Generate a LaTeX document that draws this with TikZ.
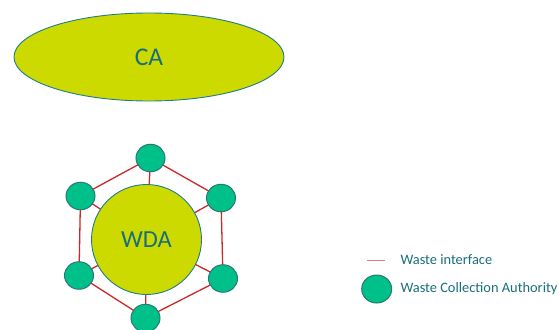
\documentclass[tikz,border=0pt]{standalone}
\usepackage{fontspec}
\setmainfont{Carlito}
\usetikzlibrary{shapes.geometric}
\definecolor{lime}{RGB}{204,218,0}
\definecolor{tealb}{RGB}{30,125,140}
\definecolor{txt}{RGB}{25,110,125}
\definecolor{wca}{RGB}{0,192,138}
\definecolor{wcab}{RGB}{40,120,115}
\definecolor{ifc}{RGB}{205,40,40}
\begin{document}
\begin{tikzpicture}[x=1pt,y=-1pt,
  big/.style={fill=lime,draw=tealb,line width=0.9pt,text=txt,font=\fontsize{25.5}{30}\selectfont},
  wcanode/.style={ellipse,fill=wca,draw=wcab,line width=1pt,minimum width=29pt,minimum height=27.5pt,inner sep=0pt},
  iface/.style={draw=ifc,line width=1.3pt},
  legtext/.style={text=txt,font=\fontsize{14.4}{17}\selectfont,anchor=west}]
\useasboundingbox (0,0) rectangle (559,329);
\node[big,ellipse,minimum width=270pt,minimum height=88pt] (ca) at (149,57) {CA};
\coordinate (wc) at (146.5,239.5);
\coordinate (t) at (150.5,158);
\coordinate (ul) at (80.5,196);
\coordinate (ur) at (221,198);
\coordinate (ll) at (79,275.5);
\coordinate (lr) at (223,278.5);
\coordinate (b) at (145.5,318);
\draw[iface] (t) -- (ul); \draw[iface] (t) -- (ur);
\draw[iface] (ul) -- (ll); \draw[iface] (ur) -- (lr);
\draw[iface] (ll) -- (b); \draw[iface] (lr) -- (b);
\foreach \n in {t,ul,ur,ll,lr,b} {\draw[iface] (\n) -- (wc);}
\node[big,circle,minimum size=110pt,inner sep=0pt,font=\fontsize{24.5}{30}\selectfont] (wda) at (wc) {WDA};
\foreach \n in {t,ul,ur,ll,lr,b} {\node[wcanode] (\n-c) at (\n) {};}
\coordinate (la) at (367,260);
\coordinate (lb) at (385,260);
\draw[draw=ifc!60,line width=1pt] (la) -- (lb);
\node[legtext] (l1) at (397,260) {Waste interface};
\node[wcanode,minimum width=30pt,minimum height=28pt] (lc) at (376.7,289) {};
\node[legtext] (l2) at (397,289) {Waste Collection Authority};
\end{tikzpicture}
\end{document}
